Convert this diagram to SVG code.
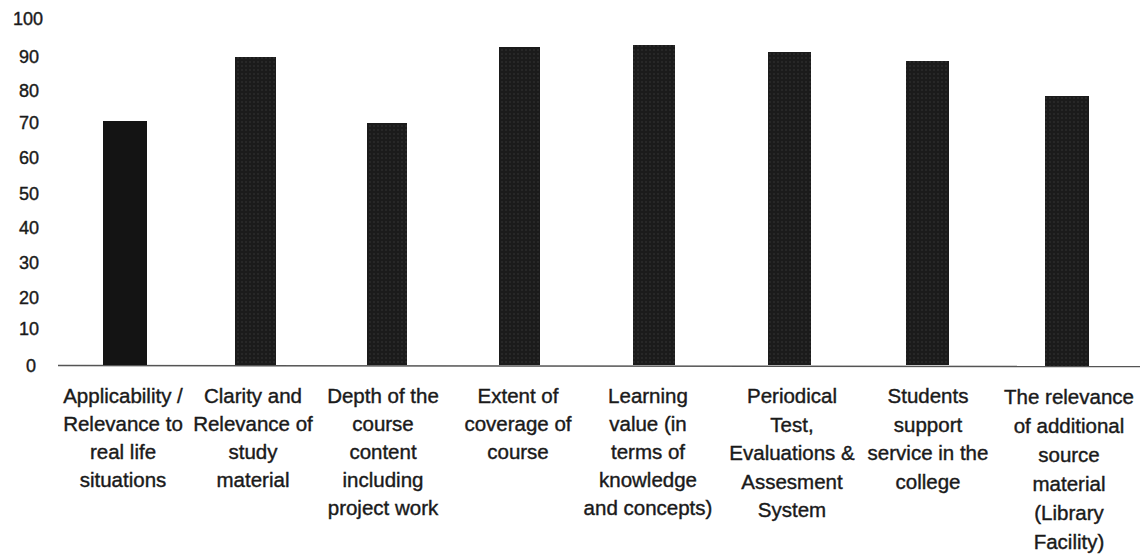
<svg xmlns="http://www.w3.org/2000/svg" width="1147" height="558" viewBox="0 0 1147 558">
<style>
.yl{font-family:"Liberation Sans",Arial,sans-serif;font-size:18px;fill:#1a1a1a;stroke:#1a1a1a;stroke-width:0.4;text-anchor:end}
.cl{font-family:"Liberation Sans",Arial,sans-serif;font-size:20.5px;fill:#1a1a1a;stroke:#1a1a1a;stroke-width:0.4;text-anchor:middle}
.bar{fill:url(#dots)}
</style>
<defs>
<pattern id="dots" width="4" height="4" patternUnits="userSpaceOnUse">
<rect width="4" height="4" fill="#1b1b1b"/>
<circle cx="2" cy="2" r="0.7" fill="#3a3a3a"/>
</pattern>
</defs>
<rect width="1147" height="558" fill="#ffffff"/>
<g id="y-axis">
<text class="yl" x="43" y="25">100</text>
<text class="yl" x="39" y="63">90</text>
<text class="yl" x="39" y="97">80</text>
<text class="yl" x="39" y="129">70</text>
<text class="yl" x="39" y="164">60</text>
<text class="yl" x="39" y="200">50</text>
<text class="yl" x="39" y="234">40</text>
<text class="yl" x="39" y="269">30</text>
<text class="yl" x="39" y="304">20</text>
<text class="yl" x="39" y="335">10</text>
<text class="yl" x="36" y="372">0</text>
</g>
<g id="connectors">
<line x1="58" y1="365.5" x2="1140" y2="366.5" stroke="#555" stroke-width="1.5"/>
</g>
<g id="bar1">
<rect class="bar" x="103" y="121" width="44" height="244" style="fill:#141414"/>
<text class="cl" x="123" y="403">Applicability /<tspan x="123" dy="28">Relevance to</tspan><tspan x="123" dy="28">real life</tspan><tspan x="123" dy="28">situations</tspan></text>
</g>
<g id="bar2">
<rect class="bar" x="235" y="57" width="41" height="308"/>
<text class="cl" x="253" y="403">Clarity and<tspan x="253" dy="28">Relevance of</tspan><tspan x="253" dy="28">study</tspan><tspan x="253" dy="28">material</tspan></text>
</g>
<g id="bar3">
<rect class="bar" x="367" y="123" width="40" height="242"/>
<text class="cl" x="383" y="403">Depth of the<tspan x="383" dy="28">course</tspan><tspan x="383" dy="28">content</tspan><tspan x="383" dy="28">including</tspan><tspan x="383" dy="28">project work</tspan></text>
</g>
<g id="bar4">
<rect class="bar" x="499" y="47" width="41" height="318"/>
<text class="cl" x="518" y="403">Extent of<tspan x="518" dy="28">coverage of</tspan><tspan x="518" dy="28">course</tspan></text>
</g>
<g id="bar5">
<rect class="bar" x="633" y="45" width="42" height="320"/>
<text class="cl" x="648" y="403">Learning<tspan x="648" dy="28">value (in</tspan><tspan x="648" dy="28">terms of</tspan><tspan x="648" dy="28">knowledge</tspan><tspan x="648" dy="28">and concepts)</tspan></text>
</g>
<g id="bar6">
<rect class="bar" x="768" y="52" width="43" height="313"/>
<text class="cl" x="792" y="403">Periodical<tspan x="792" dy="28.5">Test,</tspan><tspan x="792" dy="28.5">Evaluations &amp;</tspan><tspan x="792" dy="28.5">Assesment</tspan><tspan x="792" dy="28.5">System</tspan></text>
</g>
<g id="bar7">
<rect class="bar" x="906" y="61" width="43" height="304"/>
<text class="cl" x="928" y="403">Students<tspan x="928" dy="28.5">support</tspan><tspan x="928" dy="28.5">service in the</tspan><tspan x="928" dy="28.5">college</tspan></text>
</g>
<g id="bar8">
<rect class="bar" x="1045" y="96" width="44" height="270"/>
<text class="cl" x="1069" y="404">The relevance<tspan x="1069" dy="29">of additional</tspan><tspan x="1069" dy="29">source</tspan><tspan x="1069" dy="29">material</tspan><tspan x="1069" dy="29">(Library</tspan><tspan x="1069" dy="29">Facility)</tspan></text>
</g>
</svg>
